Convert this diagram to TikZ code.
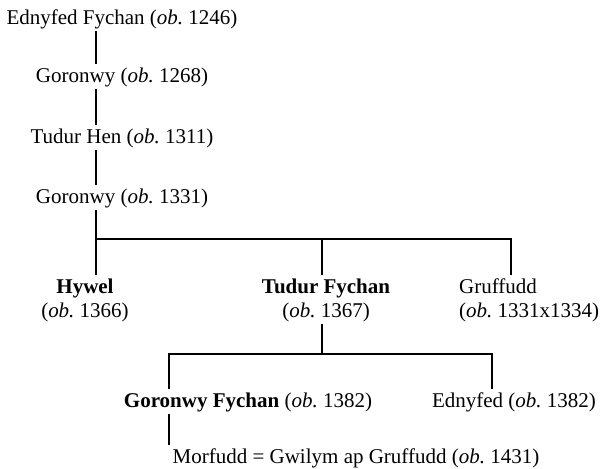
\documentclass[tikz,border=0pt]{standalone}
\usepackage{fontspec}
\setmainfont{Liberation Serif}
\tikzset{
  person/.style={inner xsep=0pt, inner ysep=3pt, text height=15pt, text depth=4pt,
    font=\fontsize{21}{24}\selectfont, anchor=base},
  couple/.style={person, text height=39pt},
  kin/.style={line width=1.6pt}
}
\newcommand{\ob}[1]{(\textit{ob.}~#1)}
\begin{document}
\begin{tikzpicture}[x=1pt,y=-1pt]
  \useasboundingbox (0,0) rectangle (603,469);
  % ancestors
  \node[person] (e1) at (122,24) {Ednyfed Fychan \ob{1246}};
  \node[person] (g1) at (122,82) {Goronwy \ob{1268}};
  \node[person] (t1) at (122,143) {Tudur Hen \ob{1311}};
  \node[person] (g2) at (122,203) {Goronwy \ob{1331}};
  % sons
  \node[couple, align=center] (hy) at (85,317) {\textbf{Hywel}\\\ob{1366}};
  \node[couple, align=center] (tf) at (326,317) {\textbf{Tudur Fychan}\\\ob{1367}};
  \node[couple, align=left, anchor=base west] (gr) at (459,317) {Gruffudd\\\ob{1331x1334}};
  % grandsons
  \node[person] (gf) at (248,407) {\textbf{Goronwy Fychan} \ob{1382}};
  \node[person] (ed) at (514,407) {Ednyfed \ob{1382}};
  \node[person] (mo) at (356,463) {Morfudd = Gwilym ap Gruffudd \ob{1431}};
  % bars
  \coordinate (a1) at (96,239); \coordinate (a2) at (322,239); \coordinate (a3) at (511,239);
  \coordinate (b1) at (169,354); \coordinate (b2) at (322,354); \coordinate (b3) at (492,354);
  \draw[kin] (e1.south -| a1)--(g1.north -| a1);
  \draw[kin] (g1.south -| a1)--(t1.north -| a1);
  \draw[kin] (t1.south -| a1)--(g2.north -| a1);
  \draw[kin] (g2.south -| a1)--(a1)--(a3)--(a3 |- gr.north);
  \draw[kin] (a1)--(a1 |- hy.north);
  \draw[kin] (a2)--(a2 |- tf.north);
  \draw[kin] (tf.south -| b2)--(b2);
  \draw[kin] (b1 |- gf.north)--(b1)--(b3)--(b3 |- ed.north);
  \draw[kin] (gf.south -| b1)--(b1 |- mo.north);
\end{tikzpicture}
\end{document}
